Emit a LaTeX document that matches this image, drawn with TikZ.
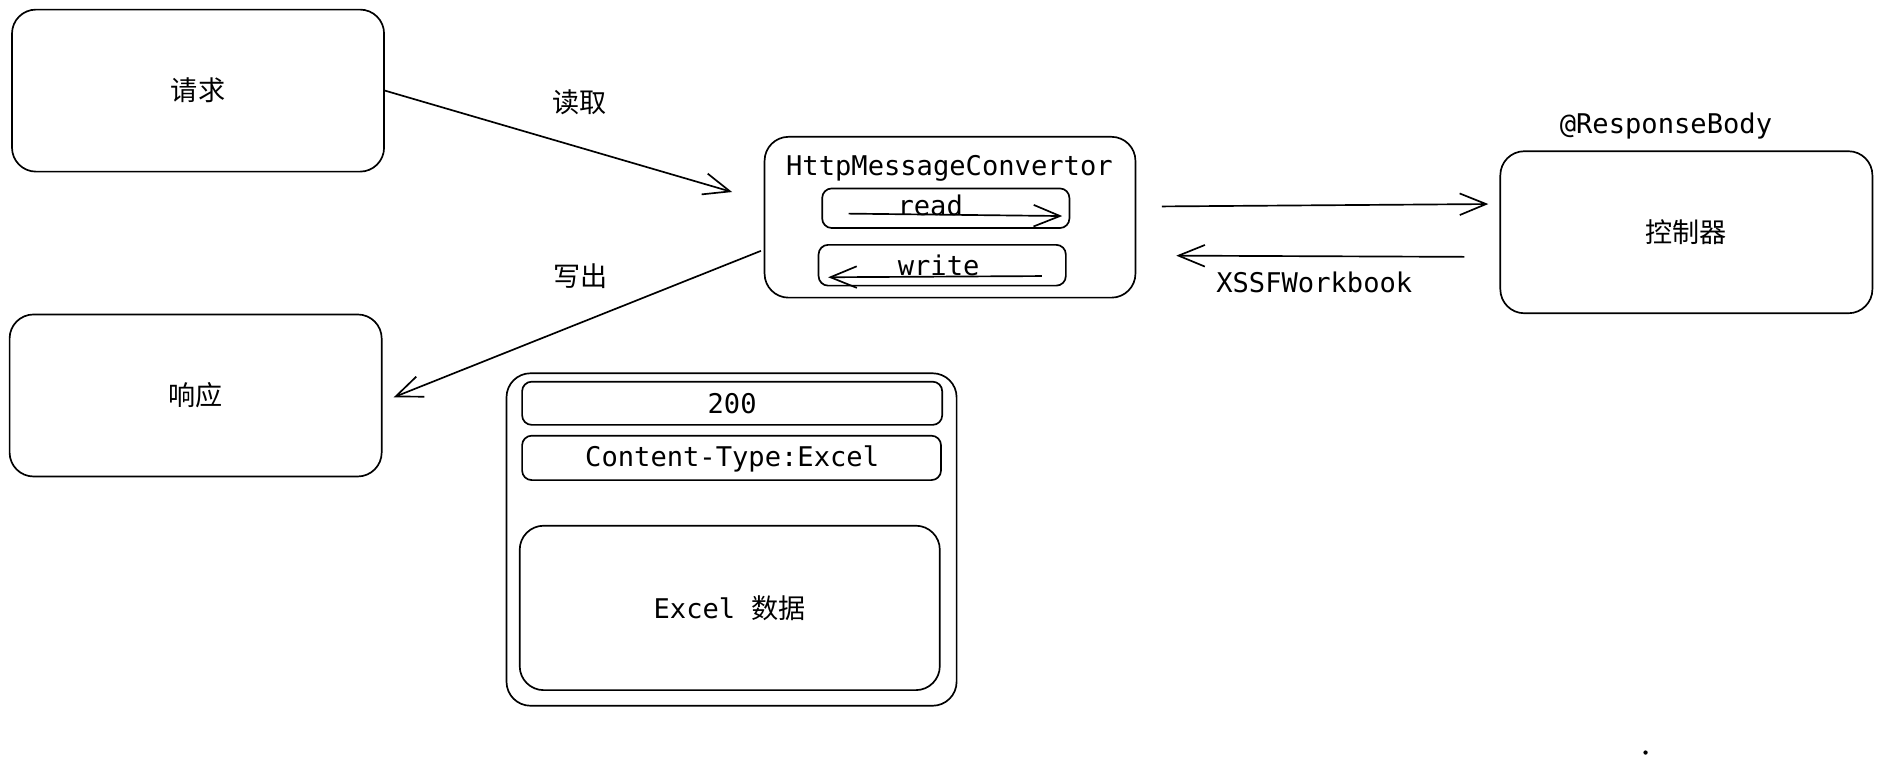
\documentclass[tikz,border=0pt]{standalone}
\usepackage{fontspec}
\setmonofont{DejaVu Sans Mono}
\newfontfamily\cjk{Noto Sans CJK SC}
\usetikzlibrary{arrows.meta}
\begin{document}
\begin{tikzpicture}[x=0.5pt,y=-0.5pt,
  box/.style={draw, line width=0.7pt, rounded corners=10pt, inner sep=0pt},
  sbox/.style={draw, line width=0.7pt, rounded corners=4pt, inner sep=0pt},
  lbl/.style={inner sep=0pt, font=\fontsize{11.3}{13}\selectfont\ttfamily},
  clbl/.style={inner sep=0pt, font=\fontsize{11.3}{13}\selectfont\cjk},
  conn/.style={line width=0.7pt, -{Straight Barb[length=11pt,width=9pt]}}]
\useasboundingbox (0,0) rectangle (1568,635);

% main boxes
\node[box, minimum width=155pt, minimum height=67.5pt, font=\fontsize{11.3}{13}\selectfont\cjk] (req) at (165,75.5) {请求};
\node[box, minimum width=155pt, minimum height=67.5pt, font=\fontsize{11.3}{13}\selectfont\cjk] (resp) at (163,329.5) {响应};
\node[box, minimum width=154.5pt, minimum height=67pt] (conv) at (791.5,181) {};
\node[sbox, minimum width=103pt, minimum height=16.5pt] (readbox) at (788,173.5) {};
\node[sbox, minimum width=103pt, minimum height=17pt] (writebox) at (785,221) {};
\node[box, minimum width=155pt, minimum height=67.5pt, font=\fontsize{11.3}{13}\selectfont\cjk] (ctrl) at (1405,193.5) {控制器};

% response body
\node[box, minimum width=187.5pt, minimum height=138.5pt] (big) at (609.5,449.5) {};
\node[sbox, minimum width=175pt, minimum height=18pt] (s200) at (610,336) {};
\node[sbox, minimum width=174.5pt, minimum height=18.5pt] (ctype) at (609.5,381.5) {};
\node[box, minimum width=175pt, minimum height=68.5pt] (data) at (608,506.5) {};

% labels
\node[lbl] (convlbl) at (791,140) {HttpMessageConvertor};
\node[lbl] (readlbl) at (775,171) {read};
\node[lbl] (writelbl) at (782,221) {write};
\node[lbl] (t200) at (610,336) {200};
\node[lbl] (tctype) at (610,382) {Content-Type:Excel};
\node[lbl] (tdata) at (608,507) {Excel {\cjk 数据}};
\node[clbl] (l1) at (483,85) {读取};
\node[clbl] (l2) at (484,230) {写出};
\node[lbl] (xssf) at (1095,235) {XSSFWorkbook};
\node[lbl] (rb) at (1388,105) {@ResponseBody};

% connector ends
\coordinate (a1e) at (610,160);
\coordinate (a2s) at (634,209);
\coordinate (a2e) at (328,331);
\coordinate (a3s) at (968,172);
\coordinate (a3e) at (1240,170);
\coordinate (a4s) at (1220,214);
\coordinate (a4e) at (980,213);
\coordinate (r1s) at (707,178);
\coordinate (r1e) at (885,180);
\coordinate (w1s) at (868,230);
\coordinate (w1e) at (690,231);

\draw[conn] (req.east) -- (a1e);
\draw[conn] (a2s) -- (a2e);
\draw[conn] (a3s) -- (a3e);
\draw[conn] (a4s) -- (a4e);
\draw[conn] (r1s) -- (r1e);
\draw[conn] (w1s) -- (w1e);

% stray dot
\node[circle, fill, inner sep=0pt, minimum size=1.8pt] (dot) at (1371,627) {};
\end{tikzpicture}
\end{document}
